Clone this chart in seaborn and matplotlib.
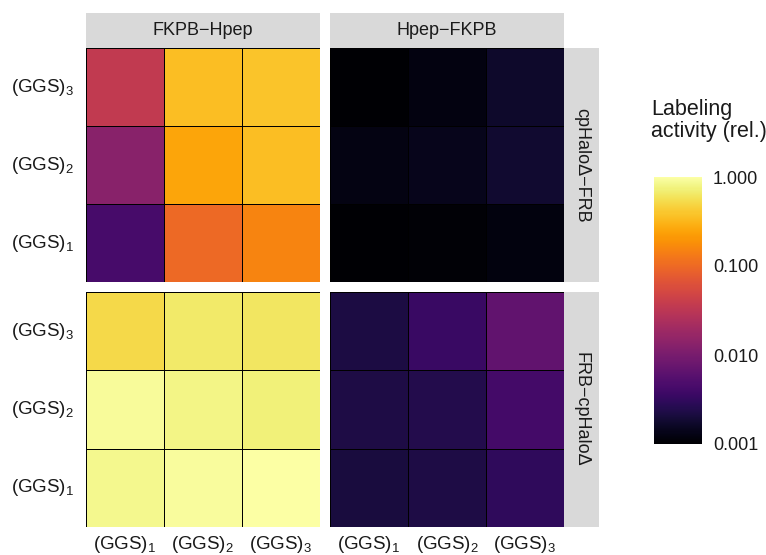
import numpy as np
import pandas as pd
import matplotlib
matplotlib.use("Agg")
import matplotlib.pyplot as plt
from matplotlib.colors import LogNorm
from matplotlib.cm import ScalarMappable
import seaborn as sns

# ---- data -------------------------------------------------------------
linkers = ["(GGS)$_{1}$", "(GGS)$_{2}$", "(GGS)$_{3}$"]
fusions = ["FKPB\u2212Hpep", "Hpep\u2212FKPB"]
constructs = ["cpHalo\u0394\u2212FRB", "FRB\u2212cpHalo\u0394"]

# rows: linker on y ((GGS)3, (GGS)2, (GGS)1 from top); columns: linker on x
fkpb_hpep_cphalo_frb = [
    [0.036, 0.355, 0.38],
    [0.013, 0.25, 0.355],
    [0.0043, 0.100, 0.155],
]
hpep_fkpb_cphalo_frb = [
    [0.0010, 0.00122, 0.00168],
    [0.00125, 0.00140, 0.00180],
    [0.0010, 0.00107, 0.00119],
]
fkpb_hpep_frb_cphalo = [
    [0.52, 0.66, 0.62],
    [0.90, 0.785, 0.73],
    [0.84, 0.93, 1.00],
]
hpep_fkpb_frb_cphalo = [
    [0.0022, 0.0035, 0.0067],
    [0.0023, 0.0025, 0.0041],
    [0.0021, 0.0023, 0.0030],
]

panels = {
    (0, 0): fkpb_hpep_cphalo_frb,
    (0, 1): hpep_fkpb_cphalo_frb,
    (1, 0): fkpb_hpep_frb_cphalo,
    (1, 1): hpep_fkpb_frb_cphalo,
}

cbar_ticks = [0.001, 0.01, 0.1, 1.0]
cbar_ticklabels = ["0.001", "0.010", "0.100", "1.000"]
legend_title = "Labeling\nactivity (rel.)"

# ---- style ------------------------------------------------------------
sns.set_style("white")
plt.rcParams["font.family"] = ["Liberation Sans", "DejaVu Sans"]
plt.rcParams["mathtext.fontset"] = "custom"
plt.rcParams["mathtext.rm"] = "Liberation Sans"
plt.rcParams["mathtext.it"] = "Liberation Sans:italic"
plt.rcParams["mathtext.bf"] = "Liberation Sans:bold"

W, H = 766, 555
fig = plt.figure(figsize=(W / 100, H / 100), dpi=100)
fig.patch.set_facecolor("white")


def rect(x0, y0, x1, y1):
    return [x0 / W, 1 - y1 / H, (x1 - x0) / W, (y1 - y0) / H]


col_x = [(85.5, 319.5), (330, 564)]
row_y = [(48, 282), (292, 527)]
strip_fill = "#D9D9D9"
text_col = "#1A1A1A"
norm = LogNorm(vmin=0.001, vmax=1.0)
axis_fs = 13.5

for (r, c), vals in panels.items():
    x0, x1 = col_x[c]
    y0, y1 = row_y[r]
    ax = fig.add_axes(rect(x0, y0, x1, y1))
    df = pd.DataFrame(vals, index=linkers[::-1], columns=linkers)
    sns.heatmap(df, ax=ax, cmap="inferno", norm=norm, cbar=False,
                linewidths=0.7, linecolor="black")
    ax.set_xlabel("")
    ax.set_ylabel("")
    ax.tick_params(length=0)
    if c == 0:
        ax.set_yticklabels(df.index, rotation=0, fontsize=axis_fs, color=text_col)
        ax.tick_params(axis="y", pad=8)
    else:
        ax.set_yticklabels([])
    if r == 1:
        ax.set_xticklabels(df.columns, rotation=0, fontsize=axis_fs, color=text_col)
        ax.tick_params(axis="x", pad=5)
    else:
        ax.set_xticklabels([])

# top strips
for c, label in enumerate(fusions):
    x0, x1 = col_x[c]
    sax = fig.add_axes(rect(x0, 13, x1, 48))
    sax.set_facecolor(strip_fill)
    sax.set_xticks([])
    sax.set_yticks([])
    for s in sax.spines.values():
        s.set_visible(False)
    sax.text(0.5, 0.5, label, ha="center", va="center", fontsize=13,
             color=text_col, transform=sax.transAxes)

# right strips
for r, label in enumerate(constructs):
    y0, y1 = row_y[r]
    sax = fig.add_axes(rect(564, y0, 599, y1))
    sax.set_facecolor(strip_fill)
    sax.set_xticks([])
    sax.set_yticks([])
    for s in sax.spines.values():
        s.set_visible(False)
    sax.text(0.5, 0.5, label, ha="center", va="center", fontsize=13,
             color=text_col, rotation=-90, transform=sax.transAxes)

# colour bar
cax = fig.add_axes(rect(654, 177, 702, 444))
sm = ScalarMappable(norm=norm, cmap="inferno")
cbar = fig.colorbar(sm, cax=cax)
cbar.set_ticks(cbar_ticks)
cbar.set_ticklabels(cbar_ticklabels)
cbar.ax.minorticks_off()
cbar.outline.set_visible(False)
cax.tick_params(axis="y", direction="in", length=10, width=1,
                color="white", left=True, right=True,
                labelleft=False, labelright=True, labelsize=13,
                labelcolor=text_col, pad=8)

fig.text(651 / W, 1 - 99 / H, legend_title, ha="left", va="top",
         fontsize=15.5, color=text_col, linespacing=1.05)

fig.savefig("out.png", dpi=100, facecolor="white")
